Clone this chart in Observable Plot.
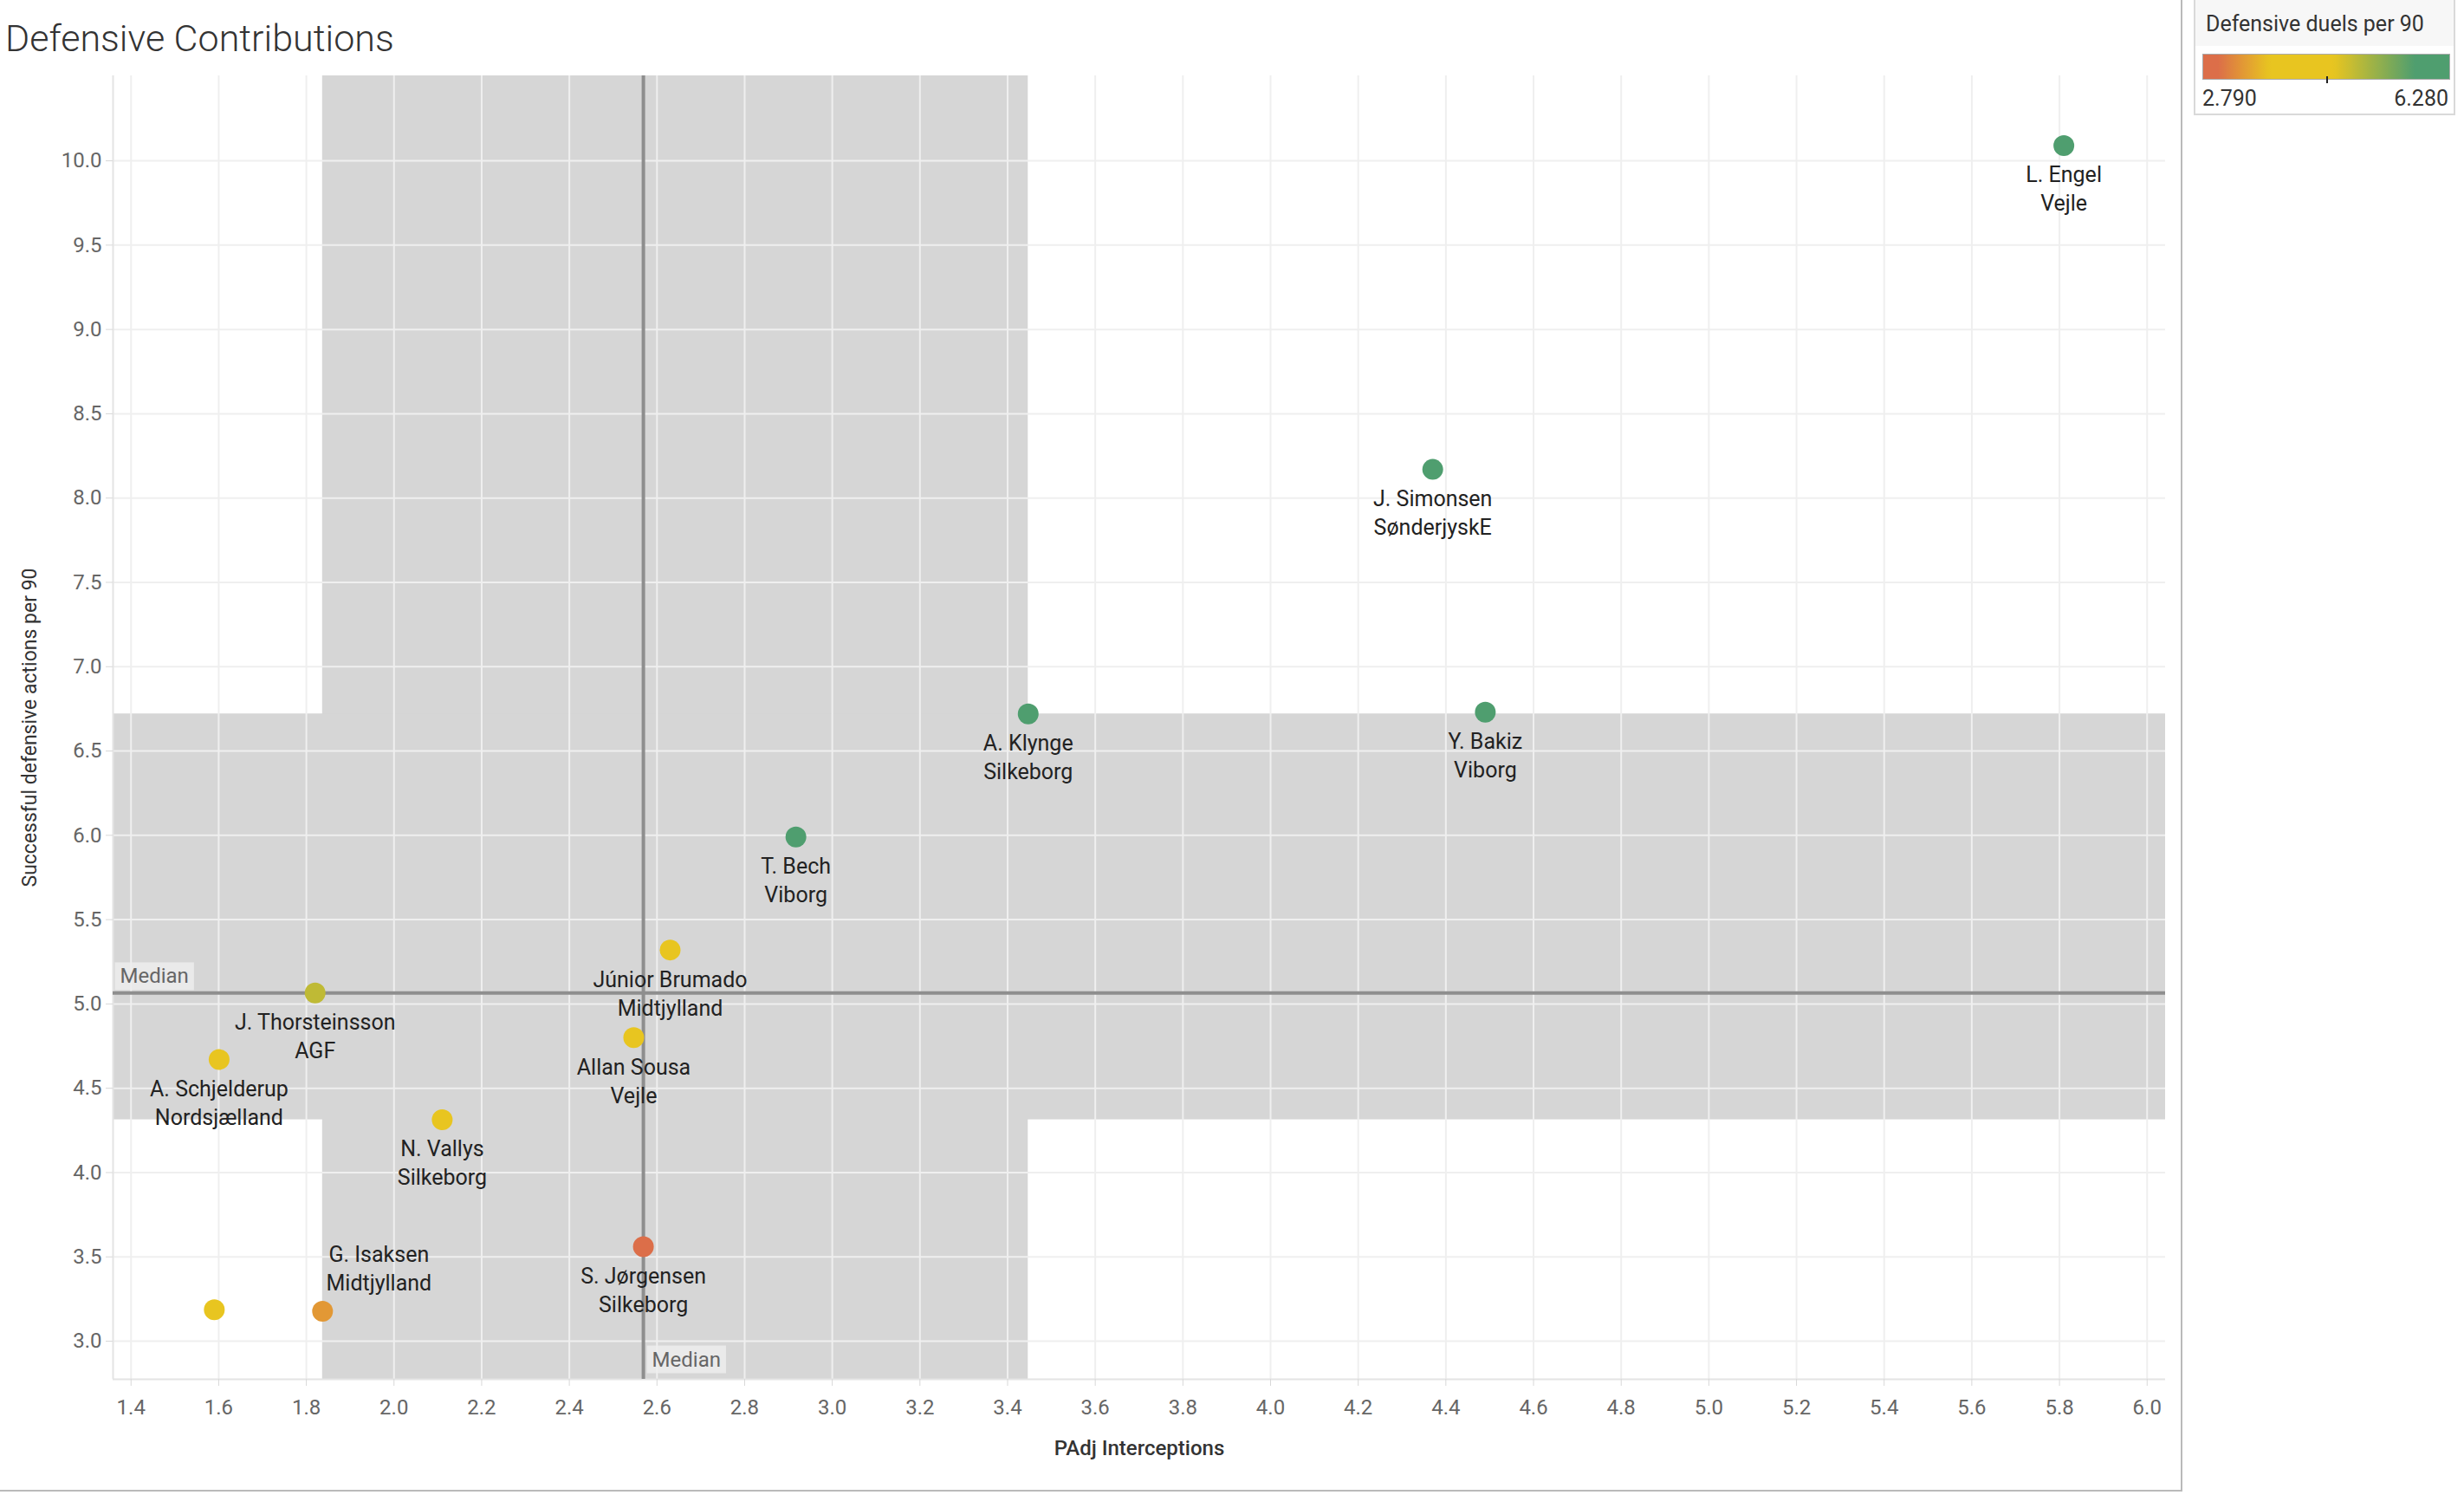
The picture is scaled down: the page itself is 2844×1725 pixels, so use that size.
<!DOCTYPE html>
<html>
<head>
<meta charset="utf-8">
<script src="https://cdn.jsdelivr.net/npm/d3@7"></script>
<script src="https://cdn.jsdelivr.net/npm/@observablehq/plot@0.6"></script>
<style>
  body { margin: 0; background: #fff; font-family: Roboto, "Noto Sans", sans-serif; }
  #frame { position: relative; width: 2517px; height: 1719px; border-right: 2px solid #bababa; border-bottom: 2px solid #bababa; }
  #frame svg { position: absolute; left: 0; top: 0; }
  #title { position: absolute; left: 6px; top: 19px; font-size: 43px; font-weight: 300; color: #333; white-space: nowrap; }
  #legend { position: absolute; left: 2532px; top: -2px; width: 302px; height: 135px; border: 2px solid #d9d9d9; background: #fff; box-sizing: border-box; }
  #legend .head { height: 53px; background: #f7f7f7; font-size: 25px; color: #333; padding-left: 12px; line-height: 56px; white-space: nowrap; }
  #legend .bar { position: absolute; left: 8px; top: 62px; width: 286px; height: 30px; border: 1px solid #aaa; box-sizing: border-box; }
  #legend .tick { position: absolute; width: 2px; height: 8px; background: #222; top: 88px; }
  #legend .lab { position: absolute; top: 99px; font-size: 25px; color: #333; }
</style>
</head>
<body>
<div id="frame"></div>
<script>
// ---- data ----
const players = ["L. Engel", "J. Simonsen", "Y. Bakiz", "A. Klynge", "T. Bech", "Júnior Brumado", "J. Thorsteinsson", "Allan Sousa", "A. Schjelderup", "N. Vallys", "S. Jørgensen", "G. Isaksen", ""];
const teams = ["Vejle", "SønderjyskE", "Viborg", "Silkeborg", "Viborg", "Midtjylland", "AGF", "Vejle", "Nordsjælland", "Silkeborg", "Silkeborg", "Midtjylland", ""];
const interceptions = [5.81, 4.37, 4.49, 3.447, 2.917, 2.63, 1.82, 2.547, 1.601, 2.11, 2.569, 1.837, 1.59];
const defActions = [10.09, 8.17, 6.73, 6.72, 5.99, 5.32, 5.065, 4.80, 4.67, 4.313, 3.56, 3.177, 3.186];
const duels = [5.95, 6.28, 6.1, 6.0, 5.9, 4.3, 4.95, 4.2, 4.1, 4.35, 2.79, 3.35, 4.0];
const labelSide = ["below", "below", "below", "below", "below", "below", "below", "below", "below", "below", "below", "above", "none"];
const xTicks = [1.4, 1.6, 1.8, 2.0, 2.2, 2.4, 2.6, 2.8, 3.0, 3.2, 3.4, 3.6, 3.8, 4.0, 4.2, 4.4, 4.6, 4.8, 5.0, 5.2, 5.4, 5.6, 5.8, 6.0];
const yTicks = [3.0, 3.5, 4.0, 4.5, 5.0, 5.5, 6.0, 6.5, 7.0, 7.5, 8.0, 8.5, 9.0, 9.5, 10.0];
const titleText = "Defensive Contributions";
const xTitle = "PAdj Interceptions";
const yTitle = "Successful defensive actions per 90";
const legendTitle = "Defensive duels per 90";
const colorMin = 2.790, colorMax = 6.280;

// ---- scale settings ----
const xDomain = [1.359, 6.042];
const yDomain = [2.774, 10.504];
const colorStops = [colorMin, 3.0, 3.73, 4.64, 5.79, colorMax];
const colorRange = ["#dc6e49", "#dc6e49", "#e8c520", "#e8c520", "#4f9e6f", "#4f9e6f"];

const rows = players.map((p, i) => ({
  player: p, team: teams[i], x: interceptions[i], y: defActions[i], duels: duels[i], side: labelSide[i],
  label: p ? p + "\n" + teams[i] : ""
}));

const medX = d3.median(interceptions), medY = d3.median(defActions);
const q1x = d3.quantile(interceptions, 0.25), q3x = d3.quantile(interceptions, 0.75);
const q1y = d3.quantile(defActions, 0.25), q3y = d3.quantile(defActions, 0.75);

const W = 2517, H = 1719;
const chart = Plot.plot({
  width: W, height: H,
  marginTop: 87, marginBottom: 128, marginLeft: 130, marginRight: 18,
  style: { fontFamily: "Roboto, 'Noto Sans', sans-serif", background: "transparent", overflow: "visible" },
  x: { domain: xDomain, axis: null },
  y: { domain: yDomain, axis: null },
  color: { type: "linear", domain: colorStops, range: colorRange, interpolate: "rgb", clamp: true },
  marks: [
    Plot.rect([{ a: q1x, b: q3x }], { x1: "a", x2: "b", fill: "#d6d6d6" }),
    Plot.rect([{ a: q1y, b: q3y }], { y1: "a", y2: "b", fill: "#d6d6d6" }),
    Plot.gridX(xTicks, { stroke: "#efefef", strokeOpacity: 1, strokeWidth: 2 }),
    Plot.gridY(yTicks, { stroke: "#efefef", strokeOpacity: 1, strokeWidth: 2 }),
    Plot.ruleX([xDomain[0]], { stroke: "#e4e4e4", strokeWidth: 2 }),
    Plot.ruleY([yDomain[0]], { stroke: "#e4e4e4", strokeWidth: 2 }),
    Plot.axisX(xTicks, { tickFormat: d => d.toFixed(1), tickSize: 8, tickPadding: 15, fontSize: 24, fill: "#666", stroke: "#d8d8d8", label: null }),
    Plot.axisY(yTicks, { tickFormat: d => d.toFixed(1), tickSize: 8, tickPadding: 5, fontSize: 24, fill: "#666", stroke: "#d8d8d8", label: null }),
    Plot.text([xTitle], { frameAnchor: "bottom", textAnchor: "middle", dy: 87, fontSize: 24, fontWeight: 500, fill: "#333" }),
    Plot.text([yTitle], { frameAnchor: "left", textAnchor: "middle", rotate: -90, dx: -96, fontSize: 23, fontWeight: 400, fill: "#333" }),
    Plot.ruleX([medX], { stroke: "#8e8e8e", strokeWidth: 4 }),
    Plot.ruleY([medY], { stroke: "#8e8e8e", strokeWidth: 4 }),
    Plot.text(["Median"], { x: medX, frameAnchor: "bottom", dx: 10, dy: -15, textAnchor: "start", fontSize: 24, fill: "#666" }),
    Plot.text(["Median"], { y: medY, frameAnchor: "left", dx: 8, dy: -19, textAnchor: "start", fontSize: 24, fill: "#666" }),
    Plot.dot(rows, { x: "x", y: "y", fill: "duels", r: 12, stroke: null }),
    Plot.text(rows.filter(d => d.side === "below"), { x: "x", y: "y", text: "label", lineAnchor: "top", dy: 19, lineHeight: 1.32, fontSize: 25, fill: "#222" }),
    Plot.text(rows.filter(d => d.side === "above"), { x: "x", y: "y", text: "label", lineAnchor: "bottom", dx: 65, dy: -24, lineHeight: 1.32, fontSize: 25, fill: "#222" })
  ]
});
const frame = document.getElementById("frame");
frame.appendChild(chart);

// background boxes for the "Median" labels
d3.select(chart).selectAll("text").filter(function () { return this.textContent === "Median"; }).each(function () {
  const b = this.getBBox();
  const r = document.createElementNS("http://www.w3.org/2000/svg", "rect");
  r.setAttribute("x", b.x - 6); r.setAttribute("y", b.y - 2);
  r.setAttribute("width", b.width + 12); r.setAttribute("height", b.height + 4);
  r.setAttribute("fill", "#ededed"); r.setAttribute("fill-opacity", "0.85");
  const t = this.getAttribute("transform"); if (t) r.setAttribute("transform", t);
  this.parentNode.insertBefore(r, this);
});

// title
const title = document.createElement("div");
title.id = "title"; title.textContent = titleText;
frame.appendChild(title);

// legend (same colour scale as the plot)
const cs = d3.scaleLinear().domain(colorStops).range(colorRange).interpolate(d3.interpolateRgb).clamp(true);
const stops = d3.range(0, 1.0001, 0.02).map(t => `${cs(colorMin + t * (colorMax - colorMin))} ${(t * 100).toFixed(1)}%`);
const legend = document.createElement("div");
legend.id = "legend";
legend.innerHTML = `<div class="head"></div><div class="bar"></div><div class="tick"></div><div class="lab"></div><div class="lab"></div>`;
legend.querySelector(".head").textContent = legendTitle;
legend.querySelector(".bar").style.background = `linear-gradient(to right, ${stops.join(",")})`;
legend.querySelector(".tick").style.left = (8 + 143) + "px";
const labs = legend.querySelectorAll(".lab");
labs[0].textContent = colorMin.toFixed(3); labs[0].style.left = "8px";
labs[1].textContent = colorMax.toFixed(3); labs[1].style.right = "6px";
document.body.appendChild(legend);
</script>
</body>
</html>
